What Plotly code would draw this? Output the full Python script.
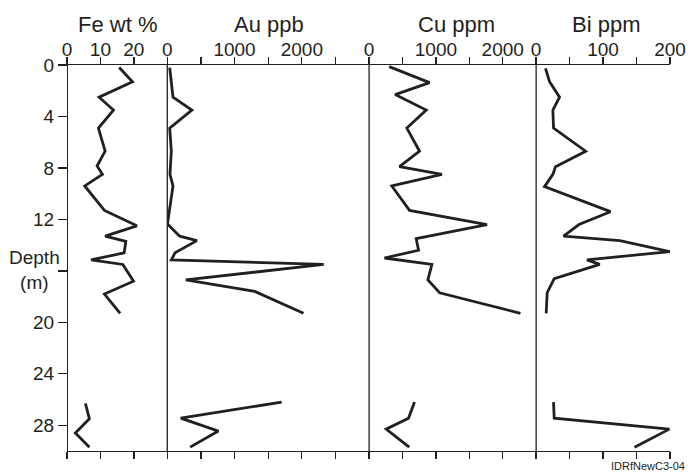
import plotly.graph_objects as go

# ---------------- data ----------------
fe_depth = [0.2, 1.3, 2.5, 3.5, 4.9, 6.7, 7.85, 8.5, 9.4, 11.3, 12.5, 13.3, 13.7, 14.6,
            15.15, 15.5, 16.8, 17.8, 19.3, None, 26.3, 27.5, 28.6, 29.7]
fe_wt = [15.6, 19.6, 9.6, 13.9, 9.4, 11.4, 9.0, 10.6, 5.3, 11.2, 20.9, 11.4, 17.6, 17.1,
         7.2, 16.7, 19.9, 11.2, 15.9, None, 5.5, 6.7, 2.5, 6.7]

au_depth = [0.2, 1.3, 2.5, 3.5, 4.9, 6.7, 8.5, 9.4, 12.35, 13.3, 13.65, 14.6, 15.15, 15.5,
            16.7, 17.6, 19.3, None, 26.2, 27.45, 28.45, 29.7]
au_ppb = [36, 55, 85, 366, 36, 60, 40, 85, 3, 185, 440, 115, 60, 2325,
          275, 1300, 2025, None, 1700, 200, 760, 340]

cu_depth = [0.13, 1.37, 2.3, 3.5, 4.9, 6.7, 7.9, 8.5, 9.4, 11.3, 12.4, 13.5, 14.4, 15.0,
            15.5, 16.7, 17.7, 19.3, None, 26.2, 27.45, 28.3, 29.7]
cu_ppm = [300, 905, 390, 855, 565, 755, 455, 1090, 340, 605, 1765, 705, 740, 230,
          940, 880, 1055, 2265, None, 680, 590, 255, 600]

bi_depth = [0.26, 1.3, 2.5, 3.5, 4.9, 6.7, 7.9, 8.5, 9.45, 11.4, 12.4, 13.3, 13.65, 14.5,
            15.15, 15.5, 16.6, 17.7, 19.3, None, 26.2, 27.45, 28.3, 29.7]
bi_ppm = [14, 20, 35, 25, 26, 74, 29, 25, 12.5, 111, 64, 41, 125, 200,
          76, 95, 27, 16.5, 15, None, 26, 27, 199, 147]

panel_titles = ["Fe wt %", "Au ppb", "Cu ppm", "Bi ppm"]

fe_ticks = [0, 10, 20, 30]
fe_ticktext = ["0", "10", "20", ""]
au_ticks = [0, 500, 1000, 1500, 2000, 2500, 3000]
au_ticktext = ["0", "", "1000", "", "2000", "", ""]
cu_ticks = [0, 500, 1000, 1500, 2000, 2500]
cu_ticktext = ["0", "", "1000", "", "2000", ""]
bi_ticks = [0, 50, 100, 150, 200]
bi_ticktext = ["0", "", "100", "", "200"]

depth_ticks = [0, 4, 8, 12, 16, 20, 24, 28]
depth_ticktext = ["0", "4", "8", "12", "", "20", "24", "28"]
depth_label = "Depth<br>(m)"
figure_code = "IDRfNewC3-04"

# ---------------- figure ----------------
INK = "#231f20"
FONT = "Liberation Sans, Arial, sans-serif"

fig = go.Figure()
series = [(fe_wt, fe_depth, "x"), (au_ppb, au_depth, "x2"),
          (cu_ppm, cu_depth, "x3"), (bi_ppm, bi_depth, "x4")]
for vals, dep, xa in series:
    fig.add_trace(go.Scatter(x=vals, y=dep, xaxis=xa, yaxis="y", mode="lines",
                             line=dict(color=INK, width=2.8), connectgaps=False,
                             hoverinfo="skip", showlegend=False))

domains = [[0.0, 0.1663], [0.1663, 0.501], [0.501, 0.778], [0.778, 1.0]]
ranges = [[0, 30], [0, 3000], [0, 2500], [0, 200]]
ticks = [(fe_ticks, fe_ticktext), (au_ticks, au_ticktext),
         (cu_ticks, cu_ticktext), (bi_ticks, bi_ticktext)]
title_shift = [0, 1, 4, 3]

axis_common = dict(side="top", showline=True, linecolor=INK, linewidth=1.3,
                   mirror="ticks", ticks="outside", ticklen=7, tickwidth=1.3,
                   tickcolor=INK, showgrid=False, zeroline=False, anchor="y",
                   ticklabelstandoff=-7, automargin=False,
                   tickfont=dict(family=FONT, size=19, color=INK), fixedrange=True)

layout_axes = {}
for i in range(4):
    name = "xaxis" if i == 0 else f"xaxis{i+1}"
    tv, tt = ticks[i]
    layout_axes[name] = dict(axis_common, domain=domains[i], range=ranges[i],
                             tickmode="array", tickvals=tv, ticktext=tt)

fig.update_layout(
    width=688, height=472,
    margin=dict(l=67, r=18, t=65, b=21, autoexpand=False),
    paper_bgcolor="white", plot_bgcolor="white",
    font=dict(family=FONT, color=INK),
    yaxis=dict(range=[30, 0], showline=True, linecolor=INK, linewidth=1.3,
               ticks="outside", ticklen=9, tickwidth=1.3, tickcolor=INK,
               tickmode="array", tickvals=depth_ticks, ticktext=depth_ticktext,
               tickfont=dict(family=FONT, size=19, color=INK), automargin=False,
               showgrid=False, zeroline=False, anchor="free", position=0,
               fixedrange=True),
    yaxis2=dict(range=[30, 0], overlaying="y", side="right", anchor="free", position=1,
                showline=True, linecolor=INK, linewidth=1.3, ticks="outside", ticklen=11,
                tickwidth=1.3, tickcolor=INK, tickmode="array", tickvals=depth_ticks[1:],
                showticklabels=False, showgrid=False, zeroline=False, fixedrange=True,
                automargin=False),
    **layout_axes,
)

# panel dividers (left edge of each following panel)
for xa in ["x2", "x3", "x4"]:
    fig.add_shape(type="line", xref=f"{xa} domain", yref="y domain",
                  x0=0, x1=0, y0=0, y1=1, line=dict(color=INK, width=1.3))

# panel titles
for i, t in enumerate(panel_titles):
    xa = "x" if i == 0 else f"x{i+1}"
    fig.add_annotation(text=t, xref=f"{xa} domain", x=0.5, yref="paper", y=1.104,
                       xanchor="center", yanchor="middle", showarrow=False,
                       xshift=title_shift[i],
                       font=dict(family=FONT, size=22, color=INK))

fig.add_annotation(text=depth_label, xref="paper", x=-0.054, yref="paper", y=0.469,
                   xanchor="center", yanchor="middle", showarrow=False, align="center",
                   font=dict(family=FONT, size=19, color=INK))

fig.add_annotation(text=figure_code, xref="paper", x=1.028, yref="paper", y=-0.038,
                   xanchor="right", yanchor="middle", showarrow=False,
                   font=dict(family=FONT, size=11, color=INK))

# remove the page's default body margin so the figure sits at the window's top-left corner
fig.write_html("out.html",
               config={"displayModeBar": False, "staticPlot": True},
               post_script="document.body.style.margin='0';"
                           "document.body.style.overflow='hidden';")
